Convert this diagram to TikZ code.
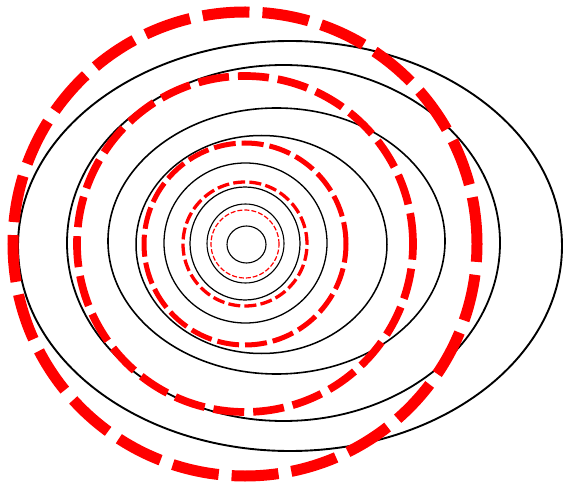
\documentclass[tikz,border=0pt]{standalone}
\usepackage{tikz}
\begin{document}
\begin{tikzpicture}[x=1pt,y=1pt,
  ell/.style={black,line width=#1},
  ring/.style={red,line width=#1}
]
  \useasboundingbox (0,0) rectangle (565,488);
  % black ellipses, inside out
  \draw[ell=1.1pt] (246.5,243.5) ellipse [x radius=19.5,y radius=18.5];
  \draw[ell=1.1pt] (245.5,244.5) ellipse [x radius=38.5,y radius=39.5];
  \draw[ell=1.2pt] (245,244.5)   ellipse [x radius=55,y radius=56.5];
  \draw[ell=1.3pt] (245.5,245)   ellipse [x radius=81.5,y radius=80];
  \draw[ell=1.5pt] (261.5,243.5) ellipse [x radius=125.5,y radius=109];
  \draw[ell=1.6pt] (276.5,247)   ellipse [x radius=168.5,y radius=133];
  \draw[ell=1.8pt] (283.5,245)   ellipse [x radius=216.5,y radius=178];
  \draw[ell=1.9pt] (290,242)     ellipse [x radius=272,y radius=205];
  % red dashed circles, inside out
  \draw[ring=1.2pt,dash pattern=on 5pt off 2pt]    (245,244) circle [radius=34];
  \draw[ring=3.3pt,dash pattern=on 12pt off 4.2pt] (245,244) circle [radius=62];
  \draw[ring=5pt,dash pattern=on 22pt off 6pt]     (245,244) circle [radius=101];
  \draw[ring=7.7pt,dash pattern=on 31pt off 9pt]   (245,244) circle [radius=168];
  \draw[ring=11pt,dash pattern=on 47pt off 13pt]   (245,244) circle [radius=232];
\end{tikzpicture}
\end{document}
